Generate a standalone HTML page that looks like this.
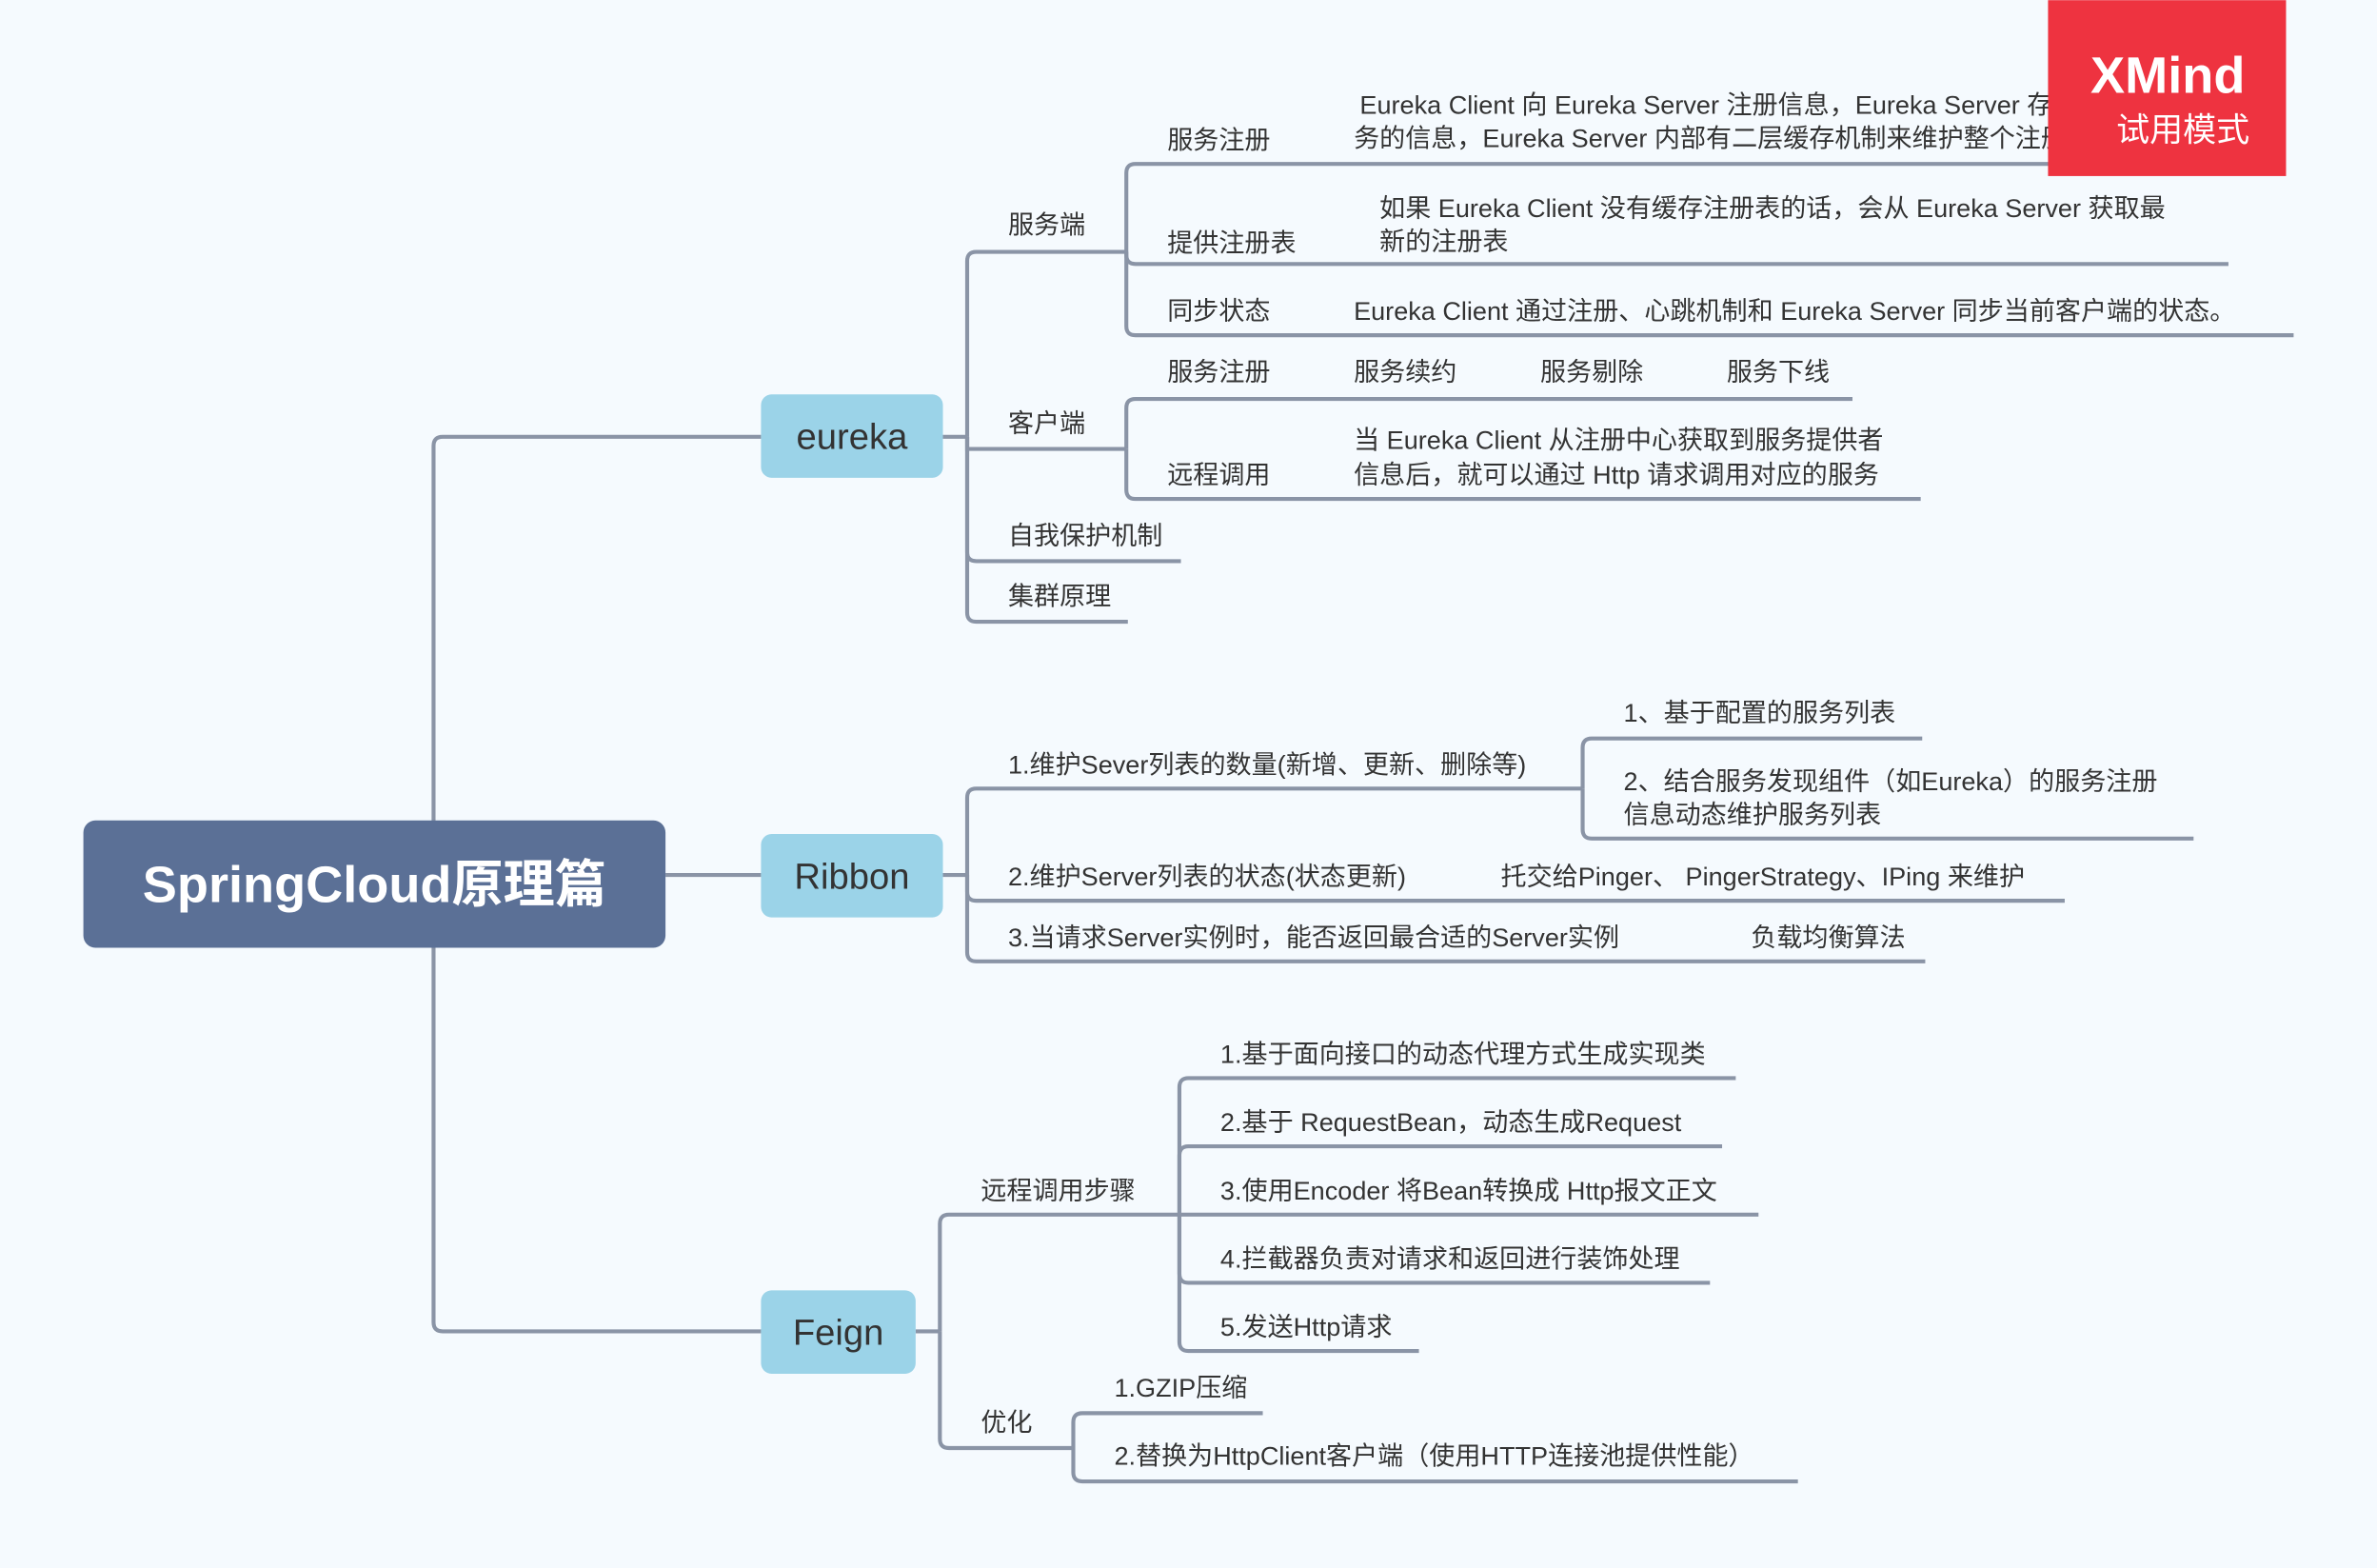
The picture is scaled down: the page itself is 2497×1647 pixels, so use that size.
<!DOCTYPE html>
<html><head><meta charset="utf-8"><style>
html,body{margin:0;padding:0;background:#f5fafe;}
svg{display:block}
text{font-family:"Liberation Sans","Noto Sans CJK SC",sans-serif;font-size:17px;fill:#333;}
</style></head><body>
<svg width="2497" height="1647" viewBox="0 0 1568 1034" xmlns="http://www.w3.org/2000/svg">
<rect width="1568" height="1034" fill="#f5fafe"/>
<g fill="none" stroke="#8a94a6" stroke-width="2.6">
<!-- root -->
<path d="M286 583 L286 294 Q286 288 292 288 L502 288"/>
<path d="M439 577 L502 577"/>
<path d="M286 583 L286 872 Q286 878 292 878 L502 878"/>
<!-- eureka -->
<path d="M622 288 L638 288"/>
<path d="M638 288 L638 172 Q638 166 644 166 L743 166"/>
<path d="M638 288 L638 296 L743 296"/>
<path d="M638 288 L638 364 Q638 370 644 370 L779 370"/>
<path d="M638 288 L638 404 Q638 410 644 410 L744 410"/>
<!-- 服务端 -->
<path d="M743 166 L743 114 Q743 108 749 108 L1360 108"/>
<path d="M743 166 L743 168 Q743 174 749 174 L1470 174"/>
<path d="M743 166 L743 215 Q743 221 749 221 L1513 221"/>
<!-- 客户端 -->
<path d="M743 296 L743 269 Q743 263 749 263 L1222 263"/>
<path d="M743 296 L743 323 Q743 329 749 329 L1267 329"/>
<!-- Ribbon -->
<path d="M622 577 L638 577"/>
<path d="M638 577 L638 526 Q638 520 644 520 L1044 520"/>
<path d="M638 577 L638 588 Q638 594 644 594 L1362 594"/>
<path d="M638 577 L638 628 Q638 634 644 634 L1270 634"/>
<path d="M1044 520 L1044 493 Q1044 487 1050 487 L1268 487"/>
<path d="M1044 520 L1044 547 Q1044 553 1050 553 L1447 553"/>
<!-- Feign -->
<path d="M604 878 L620 878"/>
<path d="M620 878 L620 807 Q620 801 626 801 L778 801"/>
<path d="M620 878 L620 949 Q620 955 626 955 L708 955"/>
<path d="M778 801 L778 717 Q778 711 784 711 L1145 711"/>
<path d="M778 801 L778 762 Q778 756 784 756 L1136 756"/>
<path d="M778 801 L1160 801"/>
<path d="M778 801 L778 840 Q778 846 784 846 L1128 846"/>
<path d="M778 801 L778 885 Q778 891 784 891 L936 891"/>
<path d="M708 955 L708 938 Q708 932 714 932 L833 932"/>
<path d="M708 955 L708 971 Q708 977 714 977 L1186 977"/>
</g>
<!-- nodes -->
<rect x="55" y="541" width="384" height="84" rx="8" fill="#5b7096"/>
<text x="247" y="595" text-anchor="middle" style="font-size:34px;font-weight:bold;fill:#fff">SpringCloud原理篇</text>
<rect x="502" y="260" width="120" height="55" rx="7" fill="#9bd3e8"/>
<text x="562" y="296" text-anchor="middle" style="font-size:24px">eureka</text>
<rect x="502" y="550" width="120" height="55" rx="7" fill="#9bd3e8"/>
<text x="562" y="586" text-anchor="middle" style="font-size:24px">Ribbon</text>
<rect x="502" y="851" width="102" height="55" rx="7" fill="#9bd3e8"/>
<text x="553" y="887" text-anchor="middle" style="font-size:24px">Feign</text>
<!-- eureka texts -->
<text x="665" y="154">服务端</text>
<text x="665" y="285">客户端</text>
<text x="665" y="359">自我保护机制</text>
<text x="665" y="399">集群原理</text>
<text x="770" y="98">服务注册</text>
<text x="897" y="75">Eureka Client 向 Eureka Server 注册信息，Eureka Server 存储该服</text>
<text x="893" y="97">务的信息，Eureka Server 内部有二层缓存机制来维护整个注册表</text>
<text x="770" y="166">提供注册表</text>
<text x="910" y="143">如果 Eureka Client 没有缓存注册表的话，会从 Eureka Server 获取最</text>
<text x="910" y="165">新的注册表</text>
<text x="770" y="211">同步状态</text>
<text x="893" y="211">Eureka Client 通过注册、心跳机制和 Eureka Server 同步当前客户端的状态。</text>
<text x="770" y="251">服务注册</text>
<text x="893" y="251">服务续约</text>
<text x="1016" y="251">服务剔除</text>
<text x="1139" y="251">服务下线</text>
<text x="770" y="319">远程调用</text>
<text x="893" y="296">当 Eureka Client 从注册中心获取到服务提供者</text>
<text x="893" y="319">信息后，就可以通过 Http 请求调用对应的服务</text>
<!-- Ribbon texts -->
<text x="665" y="510">1.维护Sever列表的数量(新增、更新、删除等)</text>
<text x="1071" y="476">1、基于配置的服务列表</text>
<text x="1071" y="521">2、结合服务发现组件（如Eureka）的服务注册</text>
<text x="1071" y="543">信息动态维护服务列表</text>
<text x="665" y="584">2.维护Server列表的状态(状态更新)</text>
<text x="990" y="584">托交给Pinger、 PingerStrategy、IPing 来维护</text>
<text x="665" y="624">3.当请求Server实例时，能否返回最合适的Server实例</text>
<text x="1155" y="624">负载均衡算法</text>
<!-- Feign texts -->
<text x="647" y="791">远程调用步骤</text>
<text x="805" y="701">1.基于面向接口的动态代理方式生成实现类</text>
<text x="805" y="746">2.基于 RequestBean，动态生成Request</text>
<text x="805" y="791">3.使用Encoder 将Bean转换成 Http报文正文</text>
<text x="805" y="836">4.拦截器负责对请求和返回进行装饰处理</text>
<text x="805" y="881">5.发送Http请求</text>
<text x="647" y="944">优化</text>
<text x="735" y="921">1.GZIP压缩</text>
<text x="735" y="966">2.替换为HttpClient客户端（使用HTTP连接池提供性能）</text>
<!-- XMind badge -->
<rect x="1351" y="0" width="157" height="116" fill="#ee3340"/>
<text x="1430" y="61" text-anchor="middle" style="font-size:34px;font-weight:bold;fill:#fff">XMind</text>
<text x="1440" y="93" text-anchor="middle" style="font-size:22px;fill:#fff">试用模式</text>
</svg>
</body></html>
